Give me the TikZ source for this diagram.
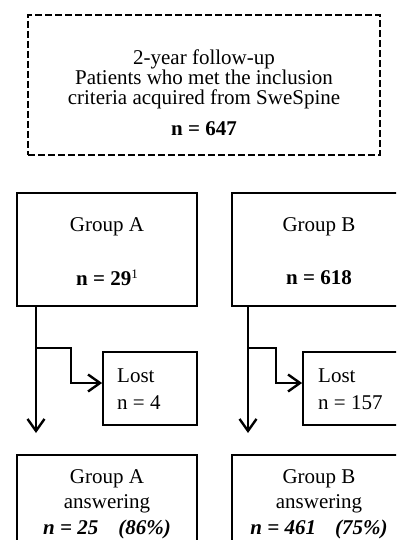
\documentclass[tikz,border=0pt]{standalone}
\usepackage{fontspec}
\setmainfont{Liberation Serif}
\usetikzlibrary{arrows.meta}
\begin{document}
\begin{tikzpicture}[x=1pt,y=-1pt,
  every node/.style={font=\fontsize{21}{21.5}\selectfont},
  box/.style={draw, line width=1.8pt, inner sep=0pt},
  txt/.style={inner sep=0pt, align=center},
  arr/.style={line width=2pt, -{Straight Barb[length=12pt,width=17pt,line width=2.4pt]}}]
\clip (0,0) rectangle (396,540);
% boxes
\node[box, dash pattern=on 7pt off 3pt, minimum width=352pt, minimum height=140pt] (top) at (204,85) {};
\node[box, minimum width=180pt, minimum height=113pt] (ga) at (107,249.5) {};
\node[box, minimum width=174pt, minimum height=113pt] (gb) at (319,249.5) {};
\node[box, minimum width=94pt, minimum height=73pt] (la) at (150,388.5) {};
\node[box, minimum width=108pt, minimum height=73pt] (lb) at (357,388.5) {};
\node[box, minimum width=180pt, minimum height=96pt] (aa) at (107,503) {};
\node[box, minimum width=174pt, minimum height=96pt] (ab) at (319,503) {};
% texts
\node[txt, font=\fontsize{21}{20}\selectfont] (toptext) at (204,93)
  {2-year follow-up\\Patients who met the inclusion\\criteria acquired from SweSpine\\[11pt]\textbf{n = 647}};
\node[txt] (gatext) at (107,227) {Group A};
\node[txt] (gan) at (107,278) {\textbf{n = 29}{\fontsize{13}{13}\selectfont\raisebox{7pt}{1}}};
\node[txt] (gbtext) at (319,227) {Group B};
\node[txt] (gbn) at (319,278) {\textbf{n = 618}};
\node[txt, font=\fontsize{21}{27}\selectfont, anchor=west, align=left] (latext) at (117,389.5) {Lost\\n = 4};
\node[txt, font=\fontsize{21}{27}\selectfont, anchor=west, align=left] (lbtext) at (318,389.5) {Lost\\n = 157};
\node[txt, font=\fontsize{21}{25.5}\selectfont] (aatext) at (107,504)
  {Group A\\answering\\\textbf{\textit{n = 25\hspace{20pt}(86\%)}}};
\node[txt, font=\fontsize{21}{25.5}\selectfont] (abtext) at (319,504)
  {Group B\\answering\\\textbf{\textit{n = 461\hspace{19pt}(75\%)}}};
% connectors
\coordinate (ja) at (36,348); \coordinate (ka) at (71,383); \coordinate (ta) at (36,433);
\coordinate (jb) at (248,348); \coordinate (kb) at (276,383); \coordinate (tb) at (248,433);
\draw[arr] (ga.south -| ja) -- (ta);
\draw[arr] (ja) -| (ka) -- (ka -| la.west);
\draw[arr] (gb.south -| jb) -- (tb);
\draw[arr] (jb) -| (kb) -- (kb -| lb.west);
\end{tikzpicture}
\end{document}
